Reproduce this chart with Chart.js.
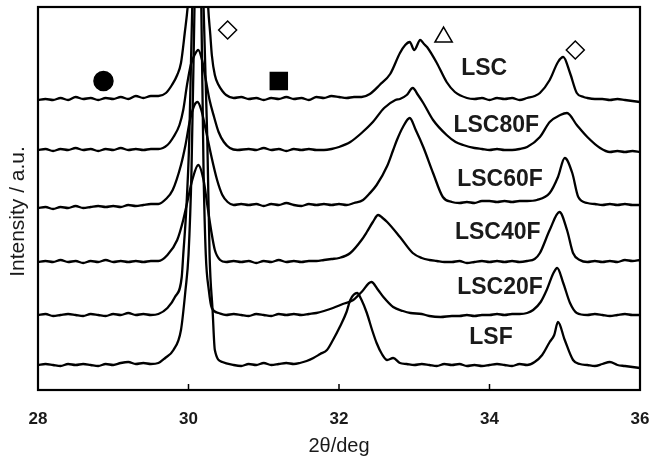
<!DOCTYPE html>
<html>
<head>
<meta charset="utf-8">
<script src="https://cdn.jsdelivr.net/npm/chart.js@4/dist/chart.umd.min.js"></script>
<style>
    body { margin: 0; background: #fff; }
    canvas { display: block; }
</style>
</head>
<body>
<canvas id="xrd" width="654" height="460"></canvas>
<script>
// patterns: [2theta, intensity] (arbitrary units, offset per sample)
const lsc = [[28.0,290],[28.1,291],[28.2,290],[28.3,292],[28.4,290],[28.5,293],[28.6,291],[28.7,292],[28.8,290],[28.9,292],[29.0,291],[29.1,293],[29.2,291],[29.3,294],[29.4,292],[29.5,294],[29.6,294],[29.7,297],[29.78,305],[29.85,315],[29.9,327],[29.95,357],[29.99,384],[30.05,450],[30.15,520],[30.22,470],[30.26,385],[30.29,355],[30.31,335],[30.35,315],[30.4,305],[30.45,299],[30.5,295],[30.6,292],[30.7,293],[30.8,291],[30.9,292],[31.0,290],[31.1,292],[31.2,291],[31.3,293],[31.4,291],[31.5,292],[31.6,290],[31.7,293],[31.8,292],[31.9,294],[32.0,293],[32.1,292],[32.2,293],[32.3,293],[32.41,296],[32.54,305],[32.68,316],[32.81,337],[32.88,345],[32.94,348],[33.0,340],[33.08,350],[33.13,346],[33.17,343],[33.3,327],[33.43,308],[33.54,298],[33.7,292],[33.8,291],[33.9,292],[34.0,290],[34.1,292],[34.2,291],[34.3,292],[34.4,290],[34.5,292],[34.6,294],[34.67,297],[34.8,310],[34.91,328],[34.98,333],[35.07,317],[35.16,297],[35.25,293],[35.3,292],[35.4,291],[35.5,291],[35.6,290],[35.7,291],[35.8,290],[35.9,289],[36.0,288]]
const lsc80f = [[28.0,240],[28.1,241],[28.2,239],[28.3,241],[28.4,240],[28.5,242],[28.6,240],[28.7,241],[28.8,239],[28.9,241],[29.0,240],[29.1,242],[29.2,240],[29.3,241],[29.4,240],[29.5,241],[29.6,241],[29.72,245],[29.8,253],[29.88,265],[29.93,280],[29.98,305],[30.03,325],[30.08,335],[30.13,340],[30.18,330],[30.23,310],[30.28,290],[30.34,273],[30.4,258],[30.47,248],[30.55,242],[30.65,240],[30.8,241],[30.9,240],[31.0,242],[31.1,240],[31.2,241],[31.3,239],[31.4,241],[31.5,240],[31.6,241],[31.7,240],[31.8,240],[31.9,241],[32.0,243],[32.15,248],[32.3,257],[32.45,268],[32.6,282],[32.75,290],[32.81,291],[32.9,295],[32.98,302],[33.05,295],[33.12,287],[33.25,270],[33.43,255],[33.55,248],[33.65,245],[33.8,242],[33.9,241],[34.0,240],[34.1,241],[34.2,240],[34.3,240],[34.4,241],[34.5,243],[34.67,253],[34.8,268],[34.94,275],[35.03,277],[35.16,265],[35.3,253],[35.47,242],[35.6,238],[35.7,239],[35.8,238],[35.9,239],[36.0,238]]
const lsc60f = [[28.0,182],[28.1,183],[28.2,181],[28.3,183],[28.4,182],[28.5,184],[28.6,182],[28.7,183],[28.8,184],[28.9,183],[29.0,184],[29.1,183],[29.2,185],[29.3,184],[29.4,185],[29.5,186],[29.6,186],[29.7,191],[29.79,200],[29.9,225],[29.96,245],[30.02,270],[30.08,285],[30.12,288],[30.17,280],[30.23,260],[30.3,235],[30.38,210],[30.45,195],[30.52,188],[30.6,185],[30.7,186],[30.8,185],[30.9,186],[31.0,184],[31.1,186],[31.2,185],[31.3,187],[31.4,185],[31.5,184],[31.6,186],[31.7,185],[31.8,186],[31.9,185],[32.0,186],[32.1,185],[32.2,187],[32.32,190],[32.4,196],[32.5,205],[32.64,224],[32.72,240],[32.77,250],[32.85,263],[32.94,272],[33.02,260],[33.12,243],[33.25,217],[33.38,193],[33.5,188],[33.6,187],[33.7,188],[33.8,187],[33.9,189],[34.0,189],[34.1,188],[34.2,189],[34.3,188],[34.4,189],[34.5,189],[34.63,190],[34.8,197],[34.91,213],[35.0,232],[35.1,217],[35.18,193],[35.3,187],[35.4,186],[35.5,185],[35.6,186],[35.7,185],[35.8,186],[35.9,185],[36.0,185]]
const lsc40f = [[28.0,128],[28.1,129],[28.2,128],[28.3,130],[28.4,128],[28.5,129],[28.6,127],[28.7,129],[28.8,128],[28.9,130],[29.0,128],[29.1,129],[29.2,128],[29.3,129],[29.4,128],[29.5,129],[29.6,129],[29.72,135],[29.85,150],[29.93,170],[29.99,190],[30.05,210],[30.13,225],[30.2,210],[30.25,185],[30.3,160],[30.35,140],[30.42,130],[30.5,128],[30.6,129],[30.7,128],[30.8,129],[30.9,127],[31.0,129],[31.1,128],[31.2,130],[31.3,128],[31.4,129],[31.5,128],[31.6,129],[31.7,129],[31.8,130],[31.9,131],[32.0,132],[32.15,137],[32.3,150],[32.37,158],[32.45,168],[32.52,175],[32.58,172],[32.64,168],[32.81,153],[32.98,137],[33.1,132],[33.2,130],[33.3,129],[33.4,128],[33.5,128],[33.6,129],[33.7,127],[33.8,128],[33.9,129],[34.0,128],[34.1,129],[34.2,128],[34.3,129],[34.4,128],[34.5,129],[34.6,131],[34.67,137],[34.8,160],[34.93,178],[35.03,160],[35.11,137],[35.2,130],[35.3,128],[35.4,129],[35.5,128],[35.6,129],[35.7,128],[35.8,130],[35.9,129],[36.0,130]]
const lsc20f = [[28.0,75],[28.1,76],[28.2,74],[28.3,75],[28.4,76],[28.5,75],[28.6,74],[28.7,76],[28.8,75],[28.9,74],[29.0,76],[29.1,75],[29.2,77],[29.3,75],[29.4,76],[29.5,75],[29.6,76],[29.72,82],[29.82,93],[29.91,113],[29.93,135],[29.97,180],[30.01,250],[30.05,384],[30.1,480],[30.13,500],[30.17,384],[30.2,220],[30.23,135],[30.27,100],[30.31,82],[30.4,77],[30.5,75],[30.6,76],[30.7,75],[30.8,74],[30.9,76],[31.0,75],[31.1,74],[31.2,76],[31.3,75],[31.4,76],[31.5,75],[31.6,76],[31.7,77],[31.8,79],[31.92,82],[32.05,86],[32.19,90],[32.3,98],[32.43,108],[32.52,100],[32.59,93],[32.72,83],[32.85,79],[32.95,77],[33.1,76],[33.2,74],[33.35,73],[33.5,74],[33.6,74],[33.7,75],[33.8,74],[33.9,75],[34.0,75],[34.1,76],[34.2,75],[34.3,76],[34.4,76],[34.5,77],[34.58,80],[34.68,88],[34.76,100],[34.85,117],[34.9,122],[34.98,107],[35.07,87],[35.16,77],[35.3,75],[35.4,76],[35.5,75],[35.6,74],[35.7,75],[35.8,76],[35.9,75],[36.0,75]]
const lsf = [[28.0,25],[28.1,26],[28.2,25],[28.3,24],[28.4,26],[28.5,25],[28.6,26],[28.7,25],[28.8,24],[28.9,26],[29.0,25],[29.1,27],[29.2,28],[29.3,26],[29.4,27],[29.5,26],[29.6,27],[29.69,32],[29.8,40],[29.9,60],[29.96,100],[30.0,135],[30.04,220],[30.08,384],[30.12,520],[30.2,384],[30.25,250],[30.28,135],[30.32,80],[30.35,40],[30.45,28],[30.6,25],[30.7,24],[30.8,26],[30.9,25],[31.0,27],[31.1,25],[31.2,26],[31.3,27],[31.4,26],[31.48,27],[31.57,29],[31.66,32],[31.75,36],[31.84,40],[31.92,50],[32.01,63],[32.1,78],[32.15,90],[32.24,97],[32.3,90],[32.37,77],[32.44,60],[32.5,47],[32.57,36],[32.64,30],[32.72,32],[32.81,27],[32.9,26],[33.0,25],[33.1,26],[33.2,25],[33.3,24],[33.4,26],[33.5,25],[33.6,26],[33.7,24],[33.8,25],[33.9,24],[34.0,25],[34.1,26],[34.2,25],[34.3,24],[34.4,26],[34.5,25],[34.6,28],[34.7,35],[34.8,48],[34.86,55],[34.91,68],[35.0,50],[35.11,30],[35.2,26],[35.3,25],[35.4,24],[35.5,26],[35.6,28],[35.7,25],[35.8,24],[35.9,23],[36.0,22]]

const patterns = [lsc, lsc80f, lsc60f, lsc40f, lsc20f, lsf]
const sampleNames = ['LSC', 'LSC80F', 'LSC60F', 'LSC40F', 'LSC20F', 'LSF']
const nameAnchors = [[33.93, 321], [34.09, 264], [34.14, 210], [34.11, 157], [34.14, 102], [34.02, 52]]

// phase markers: filled circle, filled square, open diamonds, open triangle
const circleMarks = [[28.87, 309]]
const squareMarks = [[31.2, 309]]
const diamondMarks = [[30.52, 360], [35.14, 340]]
const triangleMarks = [[33.39, 353]]

const xTicks = [28, 30, 32, 34, 36]
const yTitle = 'Intensity / a.u.'

const toPoints = arr => arr.map(p => ({ x: p[0], y: p[1] }))

const curveSets = patterns.map((pat, i) => ({
    label: sampleNames[i],
    data: toPoints(pat),
    borderColor: '#000',
    borderWidth: 2.3,
    pointRadius: 0,
    cubicInterpolationMode: 'monotone',
    clip: 0
}))

const markSet = (marks, style, radius, fill) => ({
    data: toPoints(marks),
    showLine: false,
    pointStyle: style,
    pointRadius: radius,
    pointBackgroundColor: fill,
    pointBorderColor: '#000',
    pointBorderWidth: 1.5,
    clip: false
})

const frame = {
    id: 'frame',
    afterDatasetsDraw(chart) {
        const { ctx, chartArea: a, scales } = chart
        ctx.save()
        ctx.strokeStyle = '#000'
        ctx.lineWidth = 1.5
        ctx.beginPath()
        for (const t of xTicks.slice(1, -1)) {
            const px = scales.x.getPixelForValue(t)
            ctx.moveTo(px, a.bottom)
            ctx.lineTo(px, a.bottom - 6)
        }
        ctx.stroke()
        ctx.lineWidth = 2.2
        ctx.strokeRect(a.left, a.top, a.right - a.left, a.bottom - a.top)

        ctx.fillStyle = '#1a1a1a'
        ctx.font = 'bold 23px "Liberation Sans", Arial, sans-serif'
        ctx.textAlign = 'center'
        ctx.textBaseline = 'middle'
        sampleNames.forEach((name, i) => {
            const [x, y] = nameAnchors[i]
            ctx.fillText(name, scales.x.getPixelForValue(x), scales.y.getPixelForValue(y))
        })

        // y title sits a little below the middle of the frame in the original
        ctx.font = '21px "Liberation Sans", Arial, sans-serif'
        ctx.translate(a.left - 20, (a.top + a.bottom) / 2 + 13)
        ctx.rotate(-Math.PI / 2)
        ctx.fillText(yTitle, 0, 0)
        ctx.restore()
    }
}

new Chart(document.getElementById('xrd'), {
    type: 'line',
    data: {
        datasets: [
            ...curveSets,
            markSet(circleMarks, 'circle', 9.5, '#000'),
            markSet(squareMarks, 'rect', 12, '#000'),
            markSet(diamondMarks, 'rectRot', 9, '#fff'),
            markSet(triangleMarks, 'triangle', 10, '#fff')
        ]
    },
    options: {
        responsive: false,
        animation: false,
        layout: {
            autoPadding: false,
            padding: { left: 6, right: 14, top: 7, bottom: 0 }
        },
        plugins: {
            legend: { display: false },
            tooltip: { enabled: false }
        },
        scales: {
            x: {
                type: 'linear',
                min: 28,
                max: 36,
                afterBuildTicks: scale => { scale.ticks = xTicks.map(v => ({ value: v })) },
                afterFit: scale => {
                    scale.height = 70
                    scale.paddingLeft = 0
                    scale.paddingRight = 0
                },
                grid: { display: false },
                border: { display: false },
                ticks: {
                    padding: 11,
                    color: '#1a1a1a',
                    font: { family: '"Liberation Sans", Arial, sans-serif', size: 17, weight: 'bold' }
                },
                title: {
                    display: true,
                    text: '2θ/deg',
                    color: '#1a1a1a',
                    padding: { top: 0, bottom: 2 },
                    font: { family: '"Liberation Sans", Arial, sans-serif', size: 20 }
                }
            },
            y: {
                min: 0,
                max: 383,
                afterFit: scale => {
                    scale.width = 32
                    scale.paddingTop = 0
                    scale.paddingBottom = 0
                },
                grid: { display: false },
                border: { display: false },
                ticks: { display: false }
            }
        }
    },
    plugins: [frame]
})
</script>
</body>
</html>
